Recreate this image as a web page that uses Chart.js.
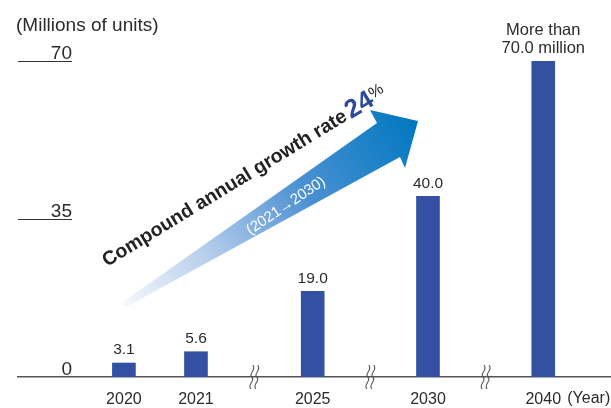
<!DOCTYPE html>
<html>
<head>
<meta charset="utf-8">
<script src="https://cdn.jsdelivr.net/npm/chart.js@4"></script>
<style>
  html, body { margin: 0; padding: 0; background: #fff; }
</style>
</head>
<body>
<canvas id="c" width="611" height="408"></canvas>
<script>
var years = ['2020', '2021', '2025', '2030', '2040'];
var values = [3.1, 5.6, 19.0, 40.0, 70.0];
var valueLabels = ['3.1', '5.6', '19.0', '40.0', ['More than', '70.0 million']];
var yTicks = [0, 35, 70];
var unitLabel = '(Millions of units)';
var yearLabel = '(Year)';
var cagrText = 'Compound annual growth rate ';
var cagrValue = '24';
var cagrPeriod = '(2021\u21922030)';

// the time axis is compressed (broken) between 2021..2025..2030..2040
var slots = [0, 1, 2.62, 4.22, 5.82];

var FONT = '"Liberation Sans", Arial, sans-serif';
var TEXT = '#2b2b2b';
var BAR = '#3350a3';

function breakMark(ctx, x, y) {
  ctx.save();
  ctx.strokeStyle = '#555';
  ctx.lineWidth = 1.1;
  [-2.5, 2.5].forEach(function(dx) {
    var cx = x + dx;
    ctx.beginPath();
    ctx.moveTo(cx + 1, y - 12);
    ctx.bezierCurveTo(cx + 5, y - 6, cx - 4, y - 4, cx, y);
    ctx.bezierCurveTo(cx + 4, y + 4, cx - 5, y + 7, cx - 1, y + 12);
    ctx.stroke();
  });
  ctx.restore();
}

var decor = {
  id: 'decor',
  afterDraw: function(chart) {
    var ctx = chart.ctx;
    var xs = chart.scales.x, ys = chart.scales.y;
    var area = chart.chartArea;

    ctx.save();
    // unit label
    ctx.fillStyle = TEXT;
    ctx.font = '19px ' + FONT;
    ctx.textAlign = 'left';
    ctx.textBaseline = 'middle';
    ctx.fillText(unitLabel, 16, 26);

    // y ticks: short rule + number above it
    ctx.font = '19px ' + FONT;
    ctx.textAlign = 'right';
    ctx.textBaseline = 'alphabetic';
    ctx.strokeStyle = '#333';
    ctx.lineWidth = 1;
    yTicks.forEach(function(t) {
      var y = Math.round(ys.getPixelForValue(t)) + 0.5;
      ctx.fillText(String(t), 72, y - 3);
      if (t > 0) {
        ctx.beginPath();
        ctx.moveTo(area.left, y);
        ctx.lineTo(72, y);
        ctx.stroke();
      }
    });

    // axis breaks
    for (var i = 1; i < slots.length - 1; i++) {
      var bx = (xs.getPixelForValue(slots[i]) + xs.getPixelForValue(slots[i + 1])) / 2;
      breakMark(ctx, bx, area.bottom);
    }

    // (Year)
    ctx.font = '16px ' + FONT;
    ctx.textAlign = 'left';
    ctx.textBaseline = 'middle';
    ctx.fillText(yearLabel, xs.getPixelForValue(slots[4]) + 24, 399);

    // value labels above the bars
    var meta = chart.getDatasetMeta(0);
    ctx.textAlign = 'center';
    ctx.textBaseline = 'middle';
    meta.data.forEach(function(bar, i) {
      var lab = valueLabels[i];
      var lines = Array.isArray(lab) ? lab : [lab];
      ctx.font = (lines.length > 1 ? '16.5px ' : '15.5px ') + FONT;
      lines.forEach(function(s, j) {
        ctx.fillText(s, bar.x, bar.y - 13 - (lines.length - 1 - j) * 18);
      });
    });

    // growth arrow
    var g = ctx.createLinearGradient(121, 304, 417, 121);
    g.addColorStop(0, '#f7f9fd');
    g.addColorStop(0.3, '#b3cbea');
    g.addColorStop(0.62, '#4a90d2');
    g.addColorStop(1, '#0078c0');
    ctx.fillStyle = g;
    ctx.beginPath();
    ctx.moveTo(120, 304);
    ctx.lineTo(377, 123);
    ctx.lineTo(370, 110);
    ctx.lineTo(418, 121);
    ctx.lineTo(405, 168);
    ctx.lineTo(400, 157);
    ctx.lineTo(126, 307);
    ctx.closePath();
    ctx.fill();

    var ang = -31.4 * Math.PI / 180;
    // "Compound annual growth rate 24%"
    ctx.save();
    ctx.translate(107, 267);
    ctx.rotate(ang);
    ctx.textAlign = 'left';
    ctx.textBaseline = 'alphabetic';
    ctx.fillStyle = '#222';
    ctx.font = 'bold 19.5px ' + FONT;
    ctx.fillText(cagrText, 0, 0);
    var w = ctx.measureText(cagrText).width - 3;
    ctx.fillStyle = '#2d4a9c';
    ctx.font = 'bold 26px ' + FONT;
    ctx.fillText(cagrValue, w, 1);
    var w2 = ctx.measureText(cagrValue).width;
    ctx.fillStyle = '#222';
    ctx.font = '16px ' + FONT;
    ctx.fillText('%', w + w2, -5);
    ctx.restore();

    // period inside the arrow
    ctx.save();
    ctx.translate(286, 206);
    ctx.rotate(-34 * Math.PI / 180);
    ctx.fillStyle = '#ffffff';
    ctx.font = '15px ' + FONT;
    ctx.textAlign = 'center';
    ctx.textBaseline = 'middle';
    ctx.fillText(cagrPeriod, 0, 0);
    ctx.restore();

    ctx.restore();
  }
};

new Chart(document.getElementById('c').getContext('2d'), {
  type: 'bar',
  data: {
    datasets: [{
      data: years.map(function(y, i) { return { x: slots[i], y: values[i] }; }),
      backgroundColor: BAR,
      barThickness: 23
    }]
  },
  options: {
    responsive: false,
    animation: false,
    layout: { padding: { left: 18, right: 0, top: 61, bottom: 0 } },
    plugins: { legend: { display: false }, tooltip: { enabled: false } },
    scales: {
      x: {
        type: 'linear',
        offset: false,
        min: -1.47,
        max: 6.76,
        afterBuildTicks: function(s) {
          s.ticks = slots.map(function(v) { return { value: v }; });
        },
        afterFit: function(s) { s.height = 31; },
        ticks: {
          autoSkip: false,
          maxRotation: 0,
          padding: 13,
          color: TEXT,
          font: { family: FONT, size: 16 },
          callback: function(v) { return years[slots.indexOf(v)]; }
        },
        grid: { display: false, drawTicks: false },
        border: { display: true, color: '#555', width: 1.5 }
      },
      y: {
        display: false,
        min: 0,
        max: 70
      }
    }
  },
  plugins: [decor]
});
</script>
</body>
</html>
